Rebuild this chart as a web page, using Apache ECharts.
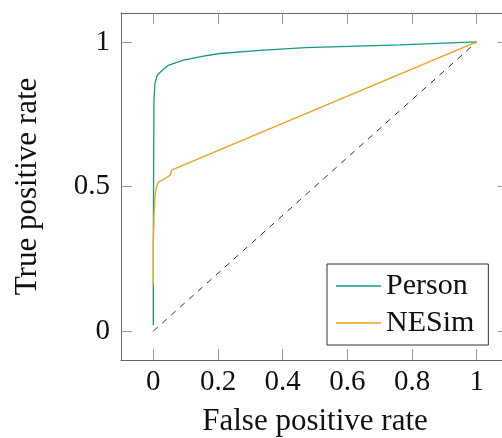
<!DOCTYPE html>
<html>
<head>
<meta charset="utf-8">
<script src="https://cdn.jsdelivr.net/npm/echarts@6/dist/echarts.min.js"></script>
<style>
  html, body { margin: 0; padding: 0; background: #fff; }
  #chart { width: 502px; height: 438px; }
</style>
</head>
<body>
<div id="chart"></div>
<script>
  // ROC curves
  var personFpr = [0, 0, 0.001, 0.002, 0.005, 0.012, 0.026, 0.046, 0.093, 0.155, 0.206, 0.33, 0.47, 0.763, 1];
  var personTpr = [0.02, 0.3, 0.6, 0.8, 0.856, 0.885, 0.9, 0.919, 0.937, 0.951, 0.96, 0.971, 0.98, 0.99, 1];
  var nesimFpr = [0, 0, 0.002, 0.005, 0.01, 0.016, 0.031, 0.052, 0.057, 0.067, 1];
  var nesimTpr = [0.16, 0.3, 0.4, 0.464, 0.5, 0.516, 0.524, 0.539, 0.557, 0.562, 1];
  var chanceFpr = [0, 1];
  var chanceTpr = [0, 1];
  var xTicks = [0, 0.2, 0.4, 0.6, 0.8, 1];
  var yTicks = [0, 0.5, 1];

  function zip(a, b) {
    var out = [];
    for (var i = 0; i < a.length; i++) out.push([a[i], b[i]]);
    return out;
  }

  var font = 'Liberation Serif';
  var axisLine = { onZero: false, lineStyle: { color: '#666', width: 1 } };

  function xAx(pos, show) {
    return {
      type: 'value', position: pos, min: -0.1, max: 1.1,
      axisLine: axisLine,
      axisTick: { show: true, inside: true, length: 11, customValues: xTicks, lineStyle: { color: '#999' } },
      axisLabel: { show: show, customValues: xTicks, fontFamily: font, fontSize: 29, color: '#111', margin: 8 },
      splitLine: { show: false },
      name: show ? 'False positive rate' : '', nameLocation: 'middle', nameGap: 46,
      nameTextStyle: { fontFamily: font, fontSize: 31, color: '#111' }
    };
  }
  function yAx(pos, show) {
    return {
      type: 'value', position: pos, min: -0.1, max: 1.1,
      axisLine: axisLine,
      axisTick: { show: true, inside: true, length: 11, customValues: yTicks, lineStyle: { color: '#999' } },
      axisLabel: { show: show, customValues: yTicks, fontFamily: font, fontSize: 29, color: '#111', margin: 11 },
      splitLine: { show: false },
      name: show ? 'True positive rate' : '', nameLocation: 'middle', nameGap: 78,
      nameTextStyle: { fontFamily: font, fontSize: 31, color: '#111' }
    };
  }

  var chart = echarts.init(document.getElementById('chart'));
  chart.setOption({
    backgroundColor: '#fff',
    animation: false,
    grid: { left: 121, top: 13, width: 388, height: 347, outerBoundsMode: 'none', containLabel: false },
    xAxis: [xAx('bottom', true), xAx('top', false)],
    yAxis: [yAx('left', true), yAx('right', false)],
    legend: {
      data: ['Person', 'NESim'],
      orient: 'vertical',
      left: 327, top: 264,
      padding: [7, 14, 7, 9],
      itemGap: 7,
      itemWidth: 45, itemHeight: 1.5,
      icon: 'rect',
      borderColor: '#333', borderWidth: 1,
      backgroundColor: '#fff',
      textStyle: { fontFamily: font, fontSize: 30, color: '#111' }
    },
    series: [
      {
        name: 'chance', type: 'line', data: zip(chanceFpr, chanceTpr),
        showSymbol: false, silent: true,
        lineStyle: { color: '#333', width: 1, type: [6, 6] }
      },
      {
        name: 'Person', type: 'line', data: zip(personFpr, personTpr),
        showSymbol: false, color: '#16997e',
        lineStyle: { color: '#16997e', width: 1.3 }
      },
      {
        name: 'NESim', type: 'line', data: zip(nesimFpr, nesimTpr),
        showSymbol: false, color: '#eea21a',
        lineStyle: { color: '#eea21a', width: 1.3 }
      }
    ]
  });
</script>
</body>
</html>
